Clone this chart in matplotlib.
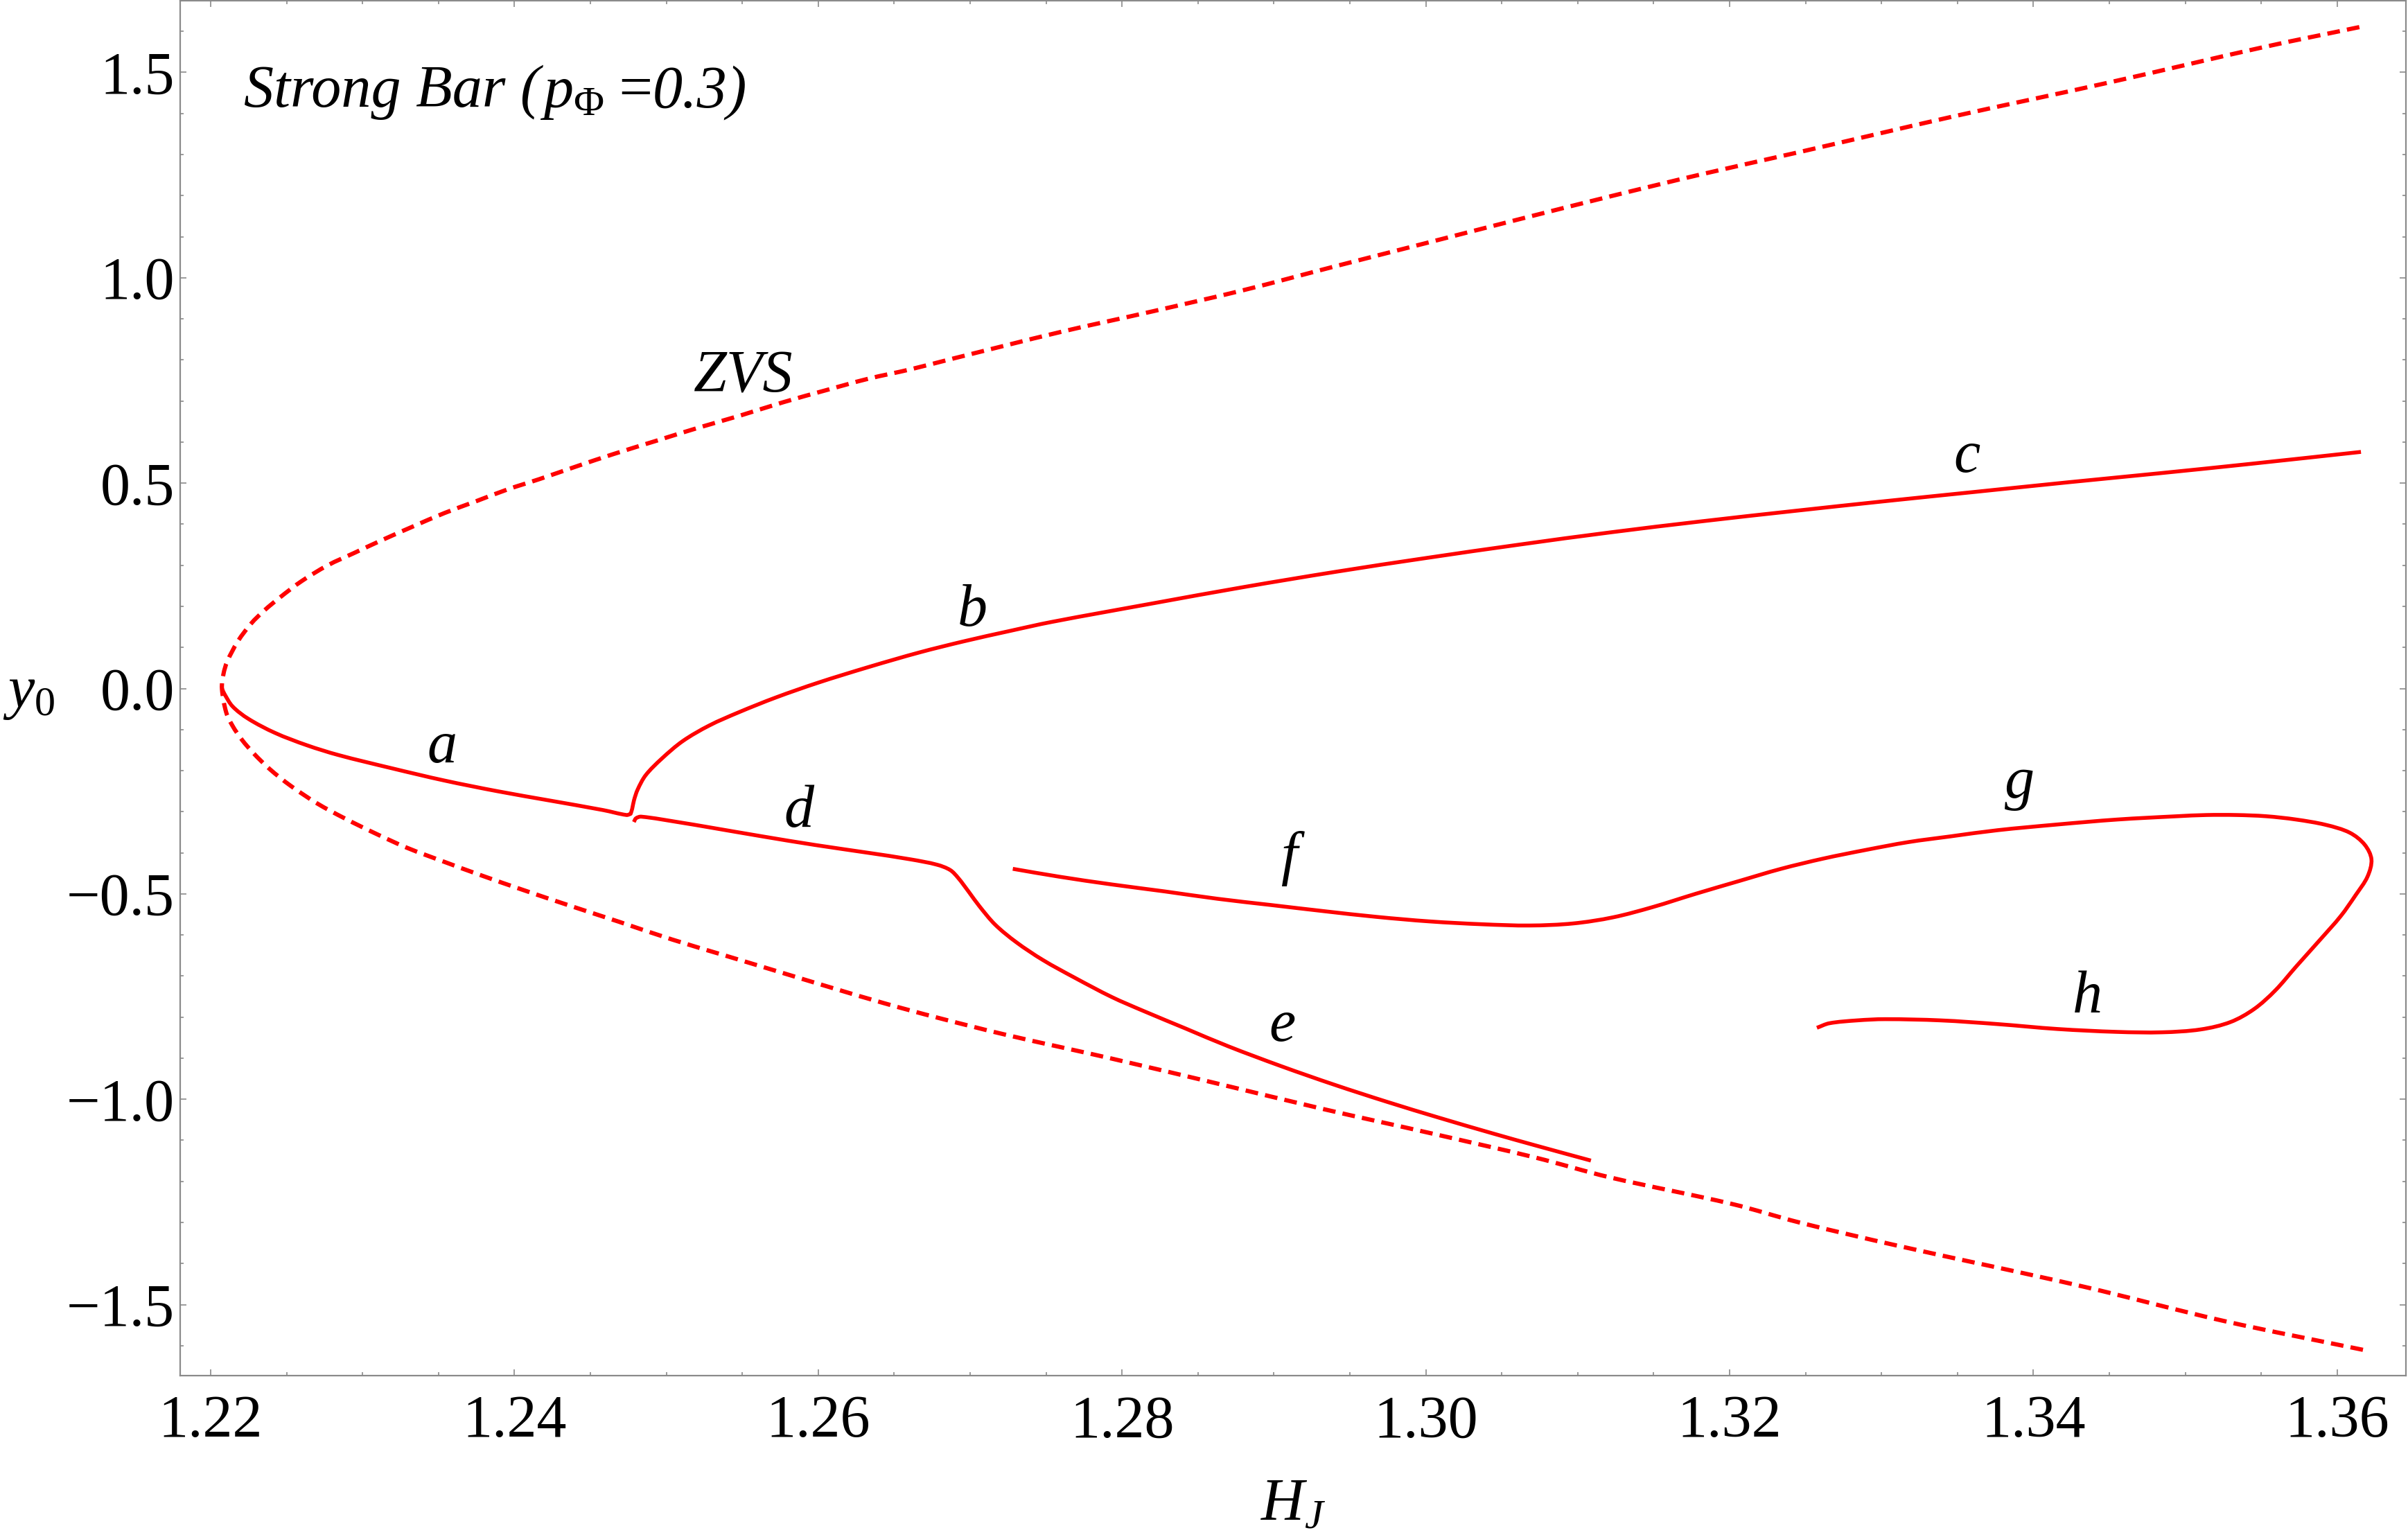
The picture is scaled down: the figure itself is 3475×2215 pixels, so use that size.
import matplotlib
matplotlib.use("Agg")
import matplotlib.pyplot as plt
import numpy as np
from matplotlib.ticker import MultipleLocator, FuncFormatter
from matplotlib.offsetbox import TextArea, HPacker, AnchoredOffsetbox
from matplotlib.path import Path
from matplotlib.patches import PathPatch

plt.rcParams['font.family'] = ['Liberation Serif', 'DejaVu Serif']
plt.rcParams['mathtext.fontset'] = 'custom'
plt.rcParams['mathtext.rm'] = 'Liberation Serif'
plt.rcParams['mathtext.it'] = 'Liberation Serif:italic'
plt.rcParams['mathtext.bf'] = 'Liberation Serif:bold'

# ---------------- data ----------------
zvs_upper_x = [1.22074, 1.22084, 1.22109, 1.22179, 1.22266, 1.22353, 1.22457, 1.22597,
               1.22771, 1.22945, 1.23120, 1.23329, 1.23538, 1.23748, 1.23957, 1.24166,
               1.24410, 1.24654, 1.24933, 1.25212, 1.25491, 1.25770, 1.26049, 1.26328,
               1.26607, 1.26885, 1.27596, 1.28199, 1.28802, 1.29405, 1.30008, 1.30610,
               1.31213, 1.31816, 1.32460, 1.33477, 1.34494, 1.35510, 1.36170]
zvs_upper_y = [0.000, 0.035, 0.066, 0.115, 0.158, 0.190, 0.222, 0.261,
               0.300, 0.330, 0.360, 0.394, 0.427, 0.456, 0.485, 0.510,
               0.541, 0.571, 0.603, 0.635, 0.665, 0.697, 0.726, 0.754,
               0.777, 0.803, 0.868, 0.918, 0.970, 1.028, 1.085, 1.142,
               1.198, 1.252, 1.306, 1.393, 1.475, 1.561, 1.612]

zvs_lower_x = [1.22074, 1.22102, 1.22144, 1.22206, 1.22283, 1.22388, 1.22527, 1.22702,
               1.22876, 1.23085, 1.23294, 1.23538, 1.23782, 1.24061, 1.24375, 1.24689,
               1.25037, 1.25386, 1.25735, 1.26083, 1.26432, 1.26781, 1.27235, 1.27932,
               1.28630, 1.29327, 1.30024, 1.30722, 1.31210, 1.32017, 1.32460, 1.33100,
               1.34328, 1.35257, 1.36170]
zvs_lower_y = [0.000, -0.058, -0.091, -0.125, -0.158, -0.196, -0.237, -0.280,
               -0.315, -0.353, -0.388, -0.422, -0.455, -0.491, -0.530, -0.568,
               -0.611, -0.650, -0.689, -0.728, -0.766, -0.801, -0.843, -0.901,
               -0.962, -1.024, -1.082, -1.142, -1.190, -1.255, -1.300, -1.356,
               -1.456, -1.540, -1.610]

# branch a continuing into b and c
ab_x = [1.22074, 1.22091, 1.22144, 1.22248, 1.22423, 1.22632, 1.22841, 1.23190,
        1.23538, 1.23887, 1.24236, 1.24584, 1.24738, 1.24765, 1.24775, 1.24787,
        1.24811, 1.24864, 1.24969, 1.25108, 1.25283, 1.25476, 1.25720, 1.25998,
        1.26329, 1.26668, 1.26960, 1.27260, 1.27536, 1.28199, 1.28802, 1.29405,
        1.30008, 1.30610, 1.31213, 1.31816, 1.32419, 1.33022, 1.33625, 1.34228,
        1.34830, 1.35433, 1.36157]
ab_y = [0.000, -0.0135, -0.0436, -0.0738, -0.108, -0.138, -0.162, -0.194,
        -0.224, -0.250, -0.273, -0.296, -0.308, -0.305, -0.293, -0.272,
        -0.246, -0.211, -0.171, -0.128, -0.090, -0.058, -0.022, 0.014,
        0.052, 0.088, 0.115, 0.140, 0.162, 0.207, 0.247, 0.284,
        0.318, 0.350, 0.380, 0.407, 0.432, 0.456, 0.479, 0.502,
        0.524, 0.547, 0.576]

# branch d continuing into e
de_x = [1.24786, 1.24800, 1.24835, 1.25089, 1.25283, 1.25631, 1.25980, 1.26329,
        1.26608, 1.26782, 1.26869, 1.26921, 1.26991, 1.27061, 1.27165, 1.27305,
        1.27479, 1.27688, 1.27932, 1.28141, 1.28420, 1.28699, 1.29048, 1.29396,
        1.29745, 1.30094, 1.30442, 1.30721, 1.31087]
de_y = [-0.325, -0.316, -0.312, -0.326, -0.338, -0.360, -0.381, -0.400,
        -0.416, -0.429, -0.442, -0.461, -0.495, -0.530, -0.575, -0.618,
        -0.661, -0.704, -0.751, -0.785, -0.828, -0.871, -0.9195, -0.9644,
        -1.0063, -1.0457, -1.0833, -1.1123, -1.1493]

# branch f continuing into g and h
fgh_x = [1.27281, 1.27584, 1.27932, 1.28281, 1.28630, 1.28978, 1.29327, 1.29676,
         1.30024, 1.30373, 1.30685, 1.30970, 1.31234, 1.31495, 1.31775, 1.32060,
         1.32339, 1.32618, 1.32897, 1.33176, 1.33455, 1.33764, 1.34160, 1.34552,
         1.34945, 1.35140, 1.35337, 1.35533, 1.35730, 1.35926, 1.36083, 1.36181,
         1.36226, 1.36200, 1.36122, 1.36024, 1.35887, 1.35730, 1.35593, 1.35455,
         1.35298, 1.35102, 1.34847, 1.34552, 1.34160, 1.33764, 1.33390, 1.33024,
         1.32840, 1.32657, 1.32575]
fgh_y = [-0.439, -0.458, -0.477, -0.494, -0.512, -0.527, -0.542, -0.556,
         -0.567, -0.574, -0.577, -0.572, -0.557, -0.532, -0.500, -0.469,
         -0.439, -0.414, -0.393, -0.374, -0.360, -0.345, -0.331, -0.319,
         -0.311, -0.308, -0.308, -0.311, -0.319, -0.332, -0.351, -0.380,
         -0.416, -0.458, -0.503, -0.554, -0.612, -0.677, -0.735, -0.780,
         -0.812, -0.830, -0.837, -0.836, -0.829, -0.817, -0.808, -0.805,
         -0.808, -0.815, -0.826]

curve_labels = ['ZVS', 'a', 'b', 'c', 'd', 'e', 'f', 'g', 'h']
label_x = [1.25508, 1.23522, 1.27016, 1.33563, 1.25872, 1.29057, 1.29098, 1.33909, 1.34355]
label_y = [0.722, -0.180, 0.153, 0.528, -0.336, -0.858, -0.450, -0.265, -0.789]

x_major = [1.22, 1.24, 1.26, 1.28, 1.30, 1.32, 1.34, 1.36]
y_major = [-1.5, -1.0, -0.5, 0.0, 0.5, 1.0, 1.5]

# ---------------- figure ----------------
W, H = 3475, 2215
fig = plt.figure(figsize=(W / 200, H / 200), dpi=200)
L, R, T, B = 260, 3472, 1, 1985
ax = fig.add_axes([L / W, 1 - B / H, (R - L) / W, (B - T) / H])

XLIM = (1.21799, 1.36453)
YLIM = (-1.6728, 1.6745)
ax.set_xlim(*XLIM)
ax.set_ylim(*YLIM)
sx = (R - L) / (XLIM[1] - XLIM[0])
sy = (B - T) / (YLIM[1] - YLIM[0])


def smooth_path(xs, ys, corners=()):
    """Cubic Bezier path passing through the given points (chord-length Catmull-Rom)."""
    P = np.column_stack([np.asarray(xs, float), np.asarray(ys, float)])
    n = len(P)
    d = np.hypot(np.diff(P[:, 0]) * sx, np.diff(P[:, 1]) * sy)
    Tg = np.zeros_like(P)
    for i in range(n):
        if i in corners:
            continue
        if i == 0:
            Tg[i] = (P[1] - P[0]) / d[0]
        elif i == n - 1:
            Tg[i] = (P[-1] - P[-2]) / d[-1]
        else:
            Tg[i] = (P[i + 1] - P[i - 1]) / (d[i - 1] + d[i])
    verts = [P[0]]
    codes = [Path.MOVETO]
    for i in range(n - 1):
        verts += [P[i] + Tg[i] * d[i] / 3, P[i + 1] - Tg[i + 1] * d[i] / 3, P[i + 1]]
        codes += [Path.CURVE4] * 3
    return Path(verts, codes)


red = '#ff0000'
zx = list(reversed(zvs_lower_x)) + zvs_upper_x[1:]
zy = list(reversed(zvs_lower_y)) + zvs_upper_y[1:]
ax.add_patch(PathPatch(smooth_path(zx, zy), fill=False, edgecolor=red, lw=2.2,
                       linestyle=(0, (3.0, 1.7)), capstyle='butt'))
for xs, ys, cr in [(ab_x, ab_y, (13,)), (de_x, de_y, ()), (fgh_x, fgh_y, ())]:
    ax.add_patch(PathPatch(smooth_path(xs, ys, cr), fill=False, edgecolor=red, lw=2.0,
                           capstyle='butt', joinstyle='round'))

ax.set_xticks(x_major)
ax.set_yticks(y_major)
ax.xaxis.set_minor_locator(MultipleLocator(0.005))
ax.yaxis.set_minor_locator(MultipleLocator(0.1))
ax.xaxis.set_major_formatter(FuncFormatter(lambda v, p: f"{v:.2f}"))
ax.yaxis.set_major_formatter(FuncFormatter(lambda v, p: f"{v:.1f}".replace('-', '\u2212')))

gray = '#8a8a8a'
for s in ax.spines.values():
    s.set_color(gray)
    s.set_linewidth(0.8)
ax.tick_params(which='both', direction='in', top=True, right=True, color=gray, width=0.6)
ax.tick_params(which='major', length=3.4, labelsize=31, labelcolor='black')
ax.tick_params(which='minor', length=1.9)
ax.tick_params(axis='x', which='major', pad=10)
ax.tick_params(axis='y', which='major', pad=3)

FS = 31
# axis labels
ax.text(-0.0797, 0.4864, r'$y_0$', transform=ax.transAxes, fontsize=FS,
        ha='left', va='baseline', clip_on=False)
ax.text(0.5, -0.1053, r'$H_J$', transform=ax.transAxes, fontsize=FS,
        ha='center', va='baseline', clip_on=False)

# curve labels
for t, lx, ly in zip(curve_labels, label_x, label_y):
    ax.text(lx, ly, t, fontsize=FS, fontstyle='italic', ha='center', va='baseline')

# title inside
tp_it = dict(fontsize=FS, fontstyle='italic', fontfamily='Liberation Serif')
tp_rm = dict(fontsize=FS, fontfamily='Liberation Serif')
parts = [TextArea("Strong Bar (", textprops=tp_it),
         TextArea(r"$p_{\Phi}$", textprops=tp_rm),
         TextArea(" =", textprops=tp_rm),
         TextArea("0.3)", textprops=tp_it)]
box = HPacker(children=parts, align='baseline', pad=0, sep=0)
anch = AnchoredOffsetbox(loc='lower left', child=box, pad=0, borderpad=0, frameon=False,
                         bbox_to_anchor=(0.0286, 0.9123), bbox_transform=ax.transAxes)
ax.add_artist(anch)

fig.savefig('out.png', dpi=200)
